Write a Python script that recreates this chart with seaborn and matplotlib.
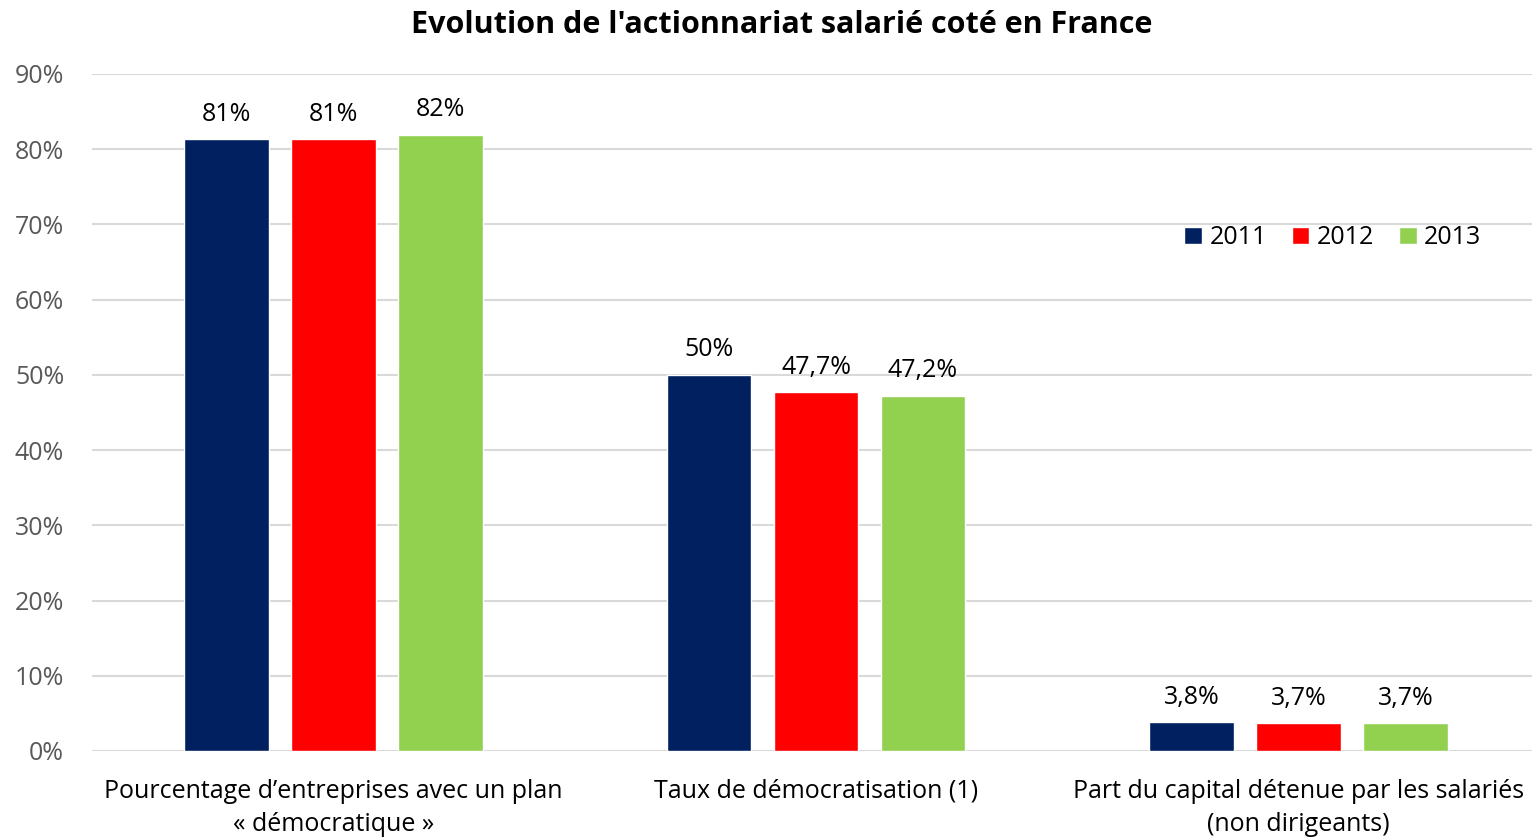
import matplotlib.pyplot as plt
import seaborn as sns
import numpy as np
import pandas as pd

# donnees
categories = ['Pourcentage d\u2019entreprises avec un plan\n\u00ab d\u00e9mocratique \u00bb',
              'Taux de d\u00e9mocratisation (1)',
              'Part du capital d\u00e9tenue par les salari\u00e9s\n(non dirigeants)']
years = ['2011', '2012', '2013']
values_2011 = [81.3, 50.0, 3.8]
values_2012 = [81.3, 47.7, 3.7]
values_2013 = [81.9, 47.2, 3.7]
labels_2011 = ['81%', '50%', '3,8%']
labels_2012 = ['81%', '47,7%', '3,7%']
labels_2013 = ['82%', '47,2%', '3,7%']
colors = ['#002060', '#ff0000', '#92d050']

data = pd.DataFrame({
    'categorie': categories * 3,
    'annee': [y for y in years for _ in categories],
    'valeur': values_2011 + values_2012 + values_2013,
})

sns.set_style('white')
plt.rcParams['font.family'] = ['Open Sans', 'DejaVu Sans']
plt.rcParams['text.color'] = 'black'

fig = plt.figure(figsize=(15.32, 8.39), dpi=100)
ax = fig.add_axes([92 / 1532, 1 - 751 / 839, 1448 / 1532, (751 - 74) / 839])

sns.barplot(data, x='categorie', y='valeur', hue='annee', palette=colors,
            width=0.665, gap=0.21, saturation=1, ax=ax)

for cont, labs in zip(ax.containers, [labels_2011, labels_2012, labels_2013]):
    ax.bar_label(cont, labels=labs, padding=9, fontsize=18, color='black')

ax.set_ylim(0, 90)
ax.set_xlim(-0.5, 2.5)
ax.set_yticks(np.arange(0, 91, 10))
ax.set_yticklabels([f'{v}%' for v in range(0, 91, 10)])
ax.yaxis.grid(True, color='#d9d9d9', linewidth=1.5)
ax.set_axisbelow(True)
ax.tick_params(axis='y', labelsize=18, colors='#595959', length=0, pad=20)
ax.tick_params(axis='x', labelsize=18, colors='black', length=0, pad=20)
for t in ax.get_xticklabels():
    t.set_linespacing(1.45)
ax.set_xlabel('')
ax.set_ylabel('')
for s in ax.spines.values():
    s.set_visible(False)

ax.legend(loc='center', bbox_to_anchor=(0.857, 0.758), ncol=3, frameon=False,
          fontsize=18, handlelength=0.7, handleheight=0.7, handletextpad=0.3,
          columnspacing=1.0)

fig.suptitle("Evolution de l'actionnariat salari\u00e9 cot\u00e9 en France",
             x=782 / 1532, y=1 - 25 / 839, va='center', fontsize=22,
             fontweight='bold', color='black')

fig.savefig('out.png', dpi=100)
